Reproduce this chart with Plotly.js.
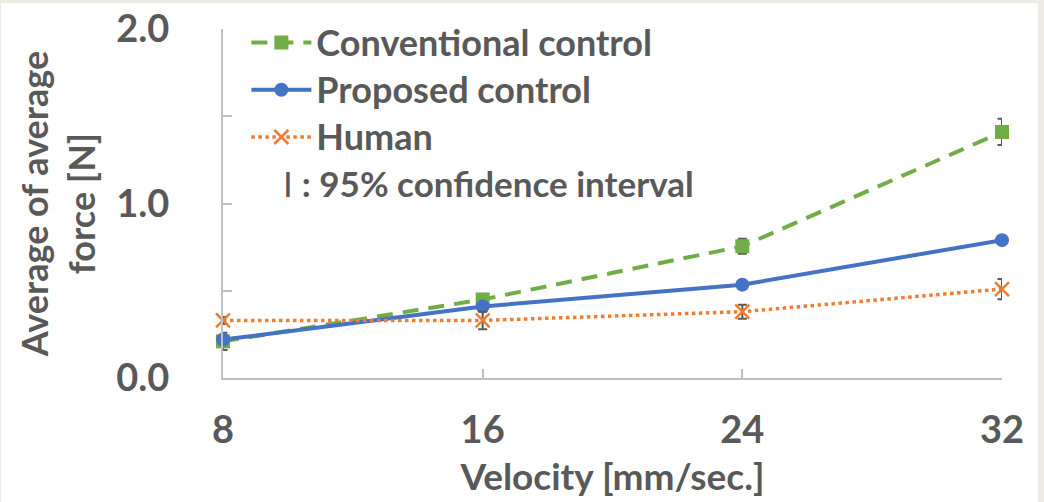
<!DOCTYPE html>
<html>
<head>
<meta charset="utf-8">
<script src="https://cdn.plot.ly/plotly-3.0.1.min.js"></script>
<style>
  html, body { margin: 0; padding: 0; background: #EEEBE4; width: 1044px; height: 502px; overflow: hidden; }
  #chart { position: absolute; left: 1px; top: 3px; width: 1037px; height: 499px; background: #FFFFFF; }
</style>
</head>
<body>
<div id="chart"></div>
<script>
const velocity = [8, 16, 24, 32];
const conventional = [0.21, 0.45, 0.755, 1.41];
const conventionalErr = [0.05, 0.03, 0.043, 0.075];
const proposed = [0.22, 0.41, 0.535, 0.79];
const proposedErr = [0.02, 0.02, 0.02, 0.02];
const human = [0.33, 0.33, 0.38, 0.51];
const humanErr = [0.02, 0.05, 0.04, 0.058];
const seriesNames = ['Conventional control', 'Proposed control', 'Human'];
const xTicks = [8, 16, 24, 32];
const yTickVals = [0, 0.5, 1, 1.5, 2];
const yTickText = ['0.0', '', '1.0', '', '2.0'];

const FONT = 'Lato, "Open Sans", "Liberation Sans", sans-serif';
const TXT = '#595959';
const errStyle = { type: 'data', visible: true, color: '#595959', thickness: 2, width: 4.5 };
const legendName = n => '<span style="font-size:36px">' + n + '</span>';

const traces = [
  {
    x: velocity, y: conventional, name: legendName(seriesNames[0]),
    type: 'scatter', mode: 'lines+markers', cliponaxis: false,
    line: { color: '#70AD47', width: 4, dash: '16px,10px' },
    marker: { symbol: 'square', size: 14, color: '#70AD47' },
    error_y: Object.assign({ array: conventionalErr }, errStyle)
  },
  {
    x: velocity, y: proposed, name: legendName(seriesNames[1]),
    type: 'scatter', mode: 'lines+markers', cliponaxis: false,
    line: { color: '#4472C4', width: 4 },
    marker: { symbol: 'circle', size: 14, color: '#4472C4' },
    error_y: Object.assign({ array: proposedErr }, errStyle)
  },
  {
    x: velocity, y: human, name: legendName(seriesNames[2]),
    type: 'scatter', mode: 'lines+markers', cliponaxis: false,
    line: { color: '#ED7D31', width: 3.5, dash: 'dot' },
    marker: { symbol: 'x-thin-open', size: 14, color: '#ED7D31', line: { color: '#ED7D31', width: 2.5 } },
    error_y: Object.assign({ array: humanErr }, errStyle)
  }
];

const layout = {
  width: 1037, height: 499,
  margin: { l: 222, r: 36, t: 25, b: 124 },
  paper_bgcolor: 'rgba(0,0,0,0)',
  plot_bgcolor: '#FFFFFF',
  font: { family: FONT, color: TXT, size: 36, weight: 'bold' },
  showlegend: true,
  legend: {
    x: 0.03, y: 1.04, xanchor: 'left', yanchor: 'top',
    bgcolor: 'rgba(0,0,0,0)',
    font: { family: FONT, size: 34, color: TXT, weight: 'bold' },
    traceorder: 'normal',
    itemwidth: 60
  },
  xaxis: {
    range: [8, 32], tickvals: xTicks, ticktext: xTicks.map(String),
    showgrid: false, zeroline: false, showline: true,
    linecolor: '#BFBFBF', linewidth: 2,
    ticks: 'inside', ticklen: 9, tickwidth: 2, tickcolor: '#BFBFBF',
    ticklabelstandoff: 17,
    tickfont: { family: FONT, size: 38, color: TXT, weight: 'bold' },
    title: { text: 'Velocity [mm/sec.]', standoff: 15, font: { family: FONT, size: 37, color: TXT, weight: 'bold' } }
  },
  yaxis: {
    range: [0, 2], tickvals: yTickVals, ticktext: yTickText,
    showgrid: false, zeroline: false, showline: true,
    linecolor: '#BFBFBF', linewidth: 2,
    ticks: 'inside', ticklen: 9, tickwidth: 2, tickcolor: '#BFBFBF',
    ticklabelstandoff: 44,
    tickfont: { family: FONT, size: 38, color: TXT, weight: 'bold' },
    title: { text: 'Average of average<br>force [N]', standoff: 10, font: { family: FONT, size: 36, color: TXT, weight: 'bold' } }
  },
  annotations: [
    {
      xref: 'paper', yref: 'paper', x: 0.074, y: 0.558, xanchor: 'left', yanchor: 'middle',
      showarrow: false,
      text: '<span style="font-weight:normal">I</span> <b>: 95% confidence interval</b>',
      font: { family: FONT, size: 35, color: TXT, weight: 'normal' }
    }
  ]
};

Plotly.newPlot('chart', traces, layout, { displayModeBar: false, staticPlot: true });
</script>
</body>
</html>
